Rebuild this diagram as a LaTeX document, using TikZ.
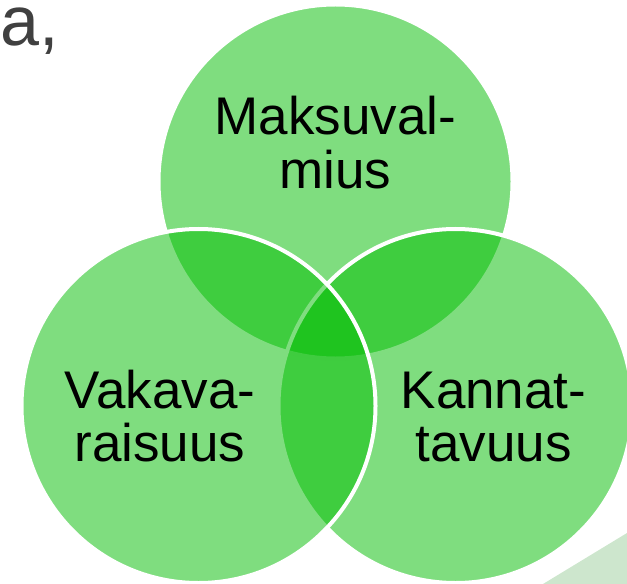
\documentclass[tikz,border=0pt]{standalone}
\usepackage{fontspec}
\setmainfont{Liberation Sans}
\definecolor{venngreen}{RGB}{0,188,0}
\definecolor{bandgreen}{RGB}{205,230,205}
\definecolor{taggray}{RGB}{64,64,64}
\begin{document}
\begin{tikzpicture}[x=1bp,y=-1bp,
  venn/.style={circle, minimum size=354bp, inner sep=0pt, outer sep=0pt,
    fill=venngreen, fill opacity=0.5, draw=white, draw opacity=1, line width=4bp},
  lbl/.style={align=center, font=\fontsize{53bp}{53.3bp}\selectfont,
    text=black, anchor=base, inner sep=0pt}]
\useasboundingbox (0,0) rectangle (627,584);
% faint background band, bottom right
\fill[bandgreen] (543,584) -- (627,533) -- (627,584) -- cycle;
% circles: top, right, left (drawing order)
\node[venn] (ctop) at (335.5,181.5) {};
\node[venn] (cright) at (455.5,406) {};
\node[venn] (cleft) at (198.5,406) {};
% labels (anchor base = baseline of the last line)
\node[lbl] (ltop) at (335.5,188.3) {Maksuval-\\mius};
\node[lbl] (lleft) at (160,461.7) {Vakava-\\raisuus};
\node[lbl] (lright) at (493.5,461.7) {Kannat-\\tavuus};
\node[anchor=base west, inner sep=0pt, text=taggray, text height=36bp, text depth=12bp,
  font=\fontsize{70bp}{70bp}\selectfont] (tag) at (0.5,46) {a,};
\end{tikzpicture}
\end{document}
